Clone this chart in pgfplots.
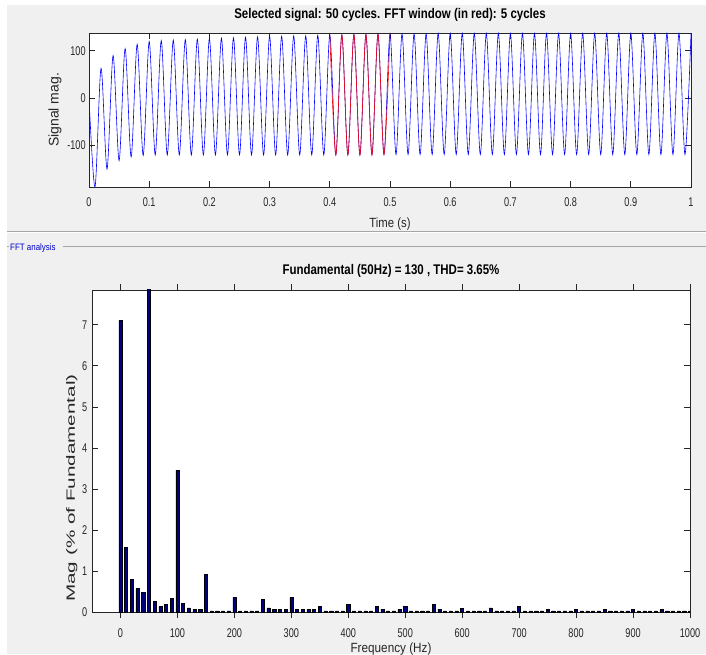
\documentclass[border=0pt]{standalone}
\usepackage{fontspec}
\setmainfont{Liberation Sans}
\usepackage{pgfplots}
\pgfplotsset{compat=1.18}
\usepackage{pgfplotstable}

\definecolor{figbg}{RGB}{240,240,240}
\definecolor{axgray}{RGB}{38,38,38}
\definecolor{panelline}{RGB}{165,165,165}
\definecolor{barnavy}{RGB}{0,0,128}
\definecolor{fftblue}{RGB}{0,0,205}

% peaks and troughs of the selected signal (t in s)
\pgfplotstableread{
t v
0.00 0
0.01 -189
0.02 63
0.03 -151
0.04 90
0.05 -133
0.06 105
0.07 -125
0.08 114
0.09 -122
0.10 120
0.11 -121
0.12 122
0.13 -121
0.14 123
0.15 -121
0.16 124
0.17 -121
0.18 125
0.19 -121
0.20 126
0.21 -121
0.22 127
0.23 -121
0.24 128
0.25 -121
0.26 129
0.27 -121
0.28 130
0.29 -121
0.30 131
0.31 -121
0.32 131
0.33 -121
0.34 132
0.35 -121
0.36 132
0.37 -121
0.38 133
0.39 -121
0.40 134
0.41 -121
0.42 134
0.43 -121
0.44 135
0.45 -121
0.46 135
0.47 -121
0.48 136
0.49 -120
0.50 136
0.51 -120
0.52 136
0.53 -120
0.54 136
0.55 -120
0.56 136
0.57 -120
0.58 137
0.59 -120
0.60 137
0.61 -120
0.62 137
0.63 -120
0.64 137
0.65 -120
0.66 137
0.67 -120
0.68 137
0.69 -120
0.70 137
0.71 -120
0.72 137
0.73 -120
0.74 137
0.75 -120
0.76 137
0.77 -120
0.78 137
0.79 -120
0.80 137
0.81 -120
0.82 137
0.83 -120
0.84 137
0.85 -120
0.86 137
0.87 -120
0.88 137
0.89 -120
0.90 137
0.91 -120
0.92 137
0.93 -120
0.94 137
0.95 -120
0.96 137
0.97 -120
0.98 137
0.99 -120
1.00 137
}\signal

\pgfplotsset{
  mlab/.style={
    scale only axis,
    axis background/.style={fill=white},
    axis line style={axgray, line width=0.6pt},
    tick style={axgray, line width=0.6pt},
    tick align=inside,
    major tick length=4.5pt,
    tick label style={text=axgray, font=\fontsize{9.5}{11}\selectfont, xscale=0.72},
    /pgf/number format/assume math mode=true,
    /pgf/number format/1000 sep={},
    label style={text=axgray},
    title style={text=black, font=\bfseries\fontsize{10.5}{12}\selectfont, xscale=0.82, anchor=base},
  },
}

\begin{document}
\begin{tikzpicture}
\fill[figbg] (5.25pt,0pt) rectangle (529.5pt,486.75pt);
\draw[panelline, line width=0.75pt] (5.25pt,316.9pt) -- (529.5pt,316.9pt);
\draw[white, line width=0.75pt] (5.25pt,316.1pt) -- (529.5pt,316.1pt);
\draw[panelline, line width=0.6pt] (5.25pt,305.6pt) -- (6.75pt,305.6pt);
\draw[panelline, line width=0.6pt] (47pt,305.6pt) -- (529.5pt,305.6pt);
\node[anchor=west, text=fftblue, font=\fontsize{7}{8}\selectfont, xscale=0.85, inner sep=0pt]
  at (7.5pt,304.8pt) {FFT analysis};

% selected signal
\begin{axis}[mlab,
  at={(66.75pt,350.25pt)}, anchor=south west,
  width=451.5pt, height=115.5pt,
  xmin=0, xmax=1, ymin=-189, ymax=138,
  xtick={0,0.1,...,1}, ytick={-100,0,100},
  xticklabel style={yshift=-4.3pt},
  title={Selected signal: 50 cycles. FFT window (in red): 5 cycles},
  title style={at={(axis description cs:0.5,1.04)}},
  xlabel={Time (s)},
  xlabel style={at={(axis description cs:0.5,-0.24)}, anchor=center, font=\fontsize{10}{12}\selectfont, xscale=0.85},
  ylabel={Signal mag.},
  ylabel style={at={(axis description cs:-0.0565,0.5)}, anchor=center, font=\fontsize{10.5}{12}\selectfont},
]
\addplot[blue, line width=0.45pt, smooth] table[x=t, y=v] {\signal};
\addplot[red, line width=0.45pt, smooth, restrict x to domain=0.399:0.501] table[x=t, y=v] {\signal};
\end{axis}

% FFT spectrum
\begin{axis}[mlab,
  at={(69pt,31.5pt)}, anchor=south west,
  width=448.5pt, height=241.5pt,
  xmin=-50, xmax=1000, ymin=0, ymax=7.85,
  xtick={0,100,...,1000}, ytick={0,1,...,7},
  xticklabel style={yshift=-4.3pt},
  yticklabel style={xshift=-1.5pt},
  title={Fundamental (50Hz) = 130 , THD= 3.65\%},
  title style={at={(axis description cs:0.5,1.022)}},
  xlabel={Frequency (Hz)},
  xlabel style={at={(axis description cs:0.5,-0.115)}, anchor=center, font=\fontsize{10}{12}\selectfont, xscale=0.88},
  ylabel={Mag (\% of Fundamental)},
  ylabel style={at={(axis description cs:-0.034,0.385)}, anchor=center, font=\fontsize{15.5}{17}\selectfont, yscale=0.58},
  ybar, bar width=5.5, bar shift=0pt,
]
\addplot[draw=black, line width=0.4pt, fill=barnavy] coordinates {
(0,7.1)(10,1.57)(20,0.8)(30,0.57)(40,0.48)(50,100)(60,0.25)(70,0.13)(80,0.18)(90,0.33)
(100,3.45)(110,0.21)(120,0.1)(130,0.06)(140,0.06)(150,0.92)(160,0.03)(170,0.03)(180,0.03)(190,0.03)
(200,0.36)(210,0.03)(220,0.03)(230,0.03)(240,0.03)(250,0.3)(260,0.1)(270,0.07)(280,0.07)(290,0.07)
(300,0.36)(310,0.06)(320,0.06)(330,0.06)(340,0.06)(350,0.13)(360,0.03)(370,0.03)(380,0.03)(390,0.03)
(400,0.19)(410,0.03)(420,0.03)(430,0.03)(440,0.03)(450,0.13)(460,0.07)(470,0.03)(480,0.03)(490,0.06)
(500,0.13)(510,0.03)(520,0.03)(530,0.03)(540,0.03)(550,0.19)(560,0.07)(570,0.03)(580,0.03)(590,0.03)
(600,0.08)(610,0.03)(620,0.03)(630,0.03)(640,0.03)(650,0.1)(660,0.03)(670,0.03)(680,0.03)(690,0.03)
(700,0.13)(710,0.03)(720,0.03)(730,0.03)(740,0.03)(750,0.07)(760,0.03)(770,0.03)(780,0.03)(790,0.03)
(800,0.06)(810,0.03)(820,0.03)(830,0.03)(840,0.03)(850,0.06)(860,0.03)(870,0.03)(880,0.03)(890,0.03)
(900,0.06)(910,0.03)(920,0.03)(930,0.03)(940,0.03)(950,0.06)(960,0.03)(970,0.03)(980,0.03)(990,0.03)
(1000,0.03)
};
\end{axis}

\pgfresetboundingbox
\useasboundingbox (0pt,0pt) rectangle (529.5pt,490.5pt);
\end{tikzpicture}
\end{document}
